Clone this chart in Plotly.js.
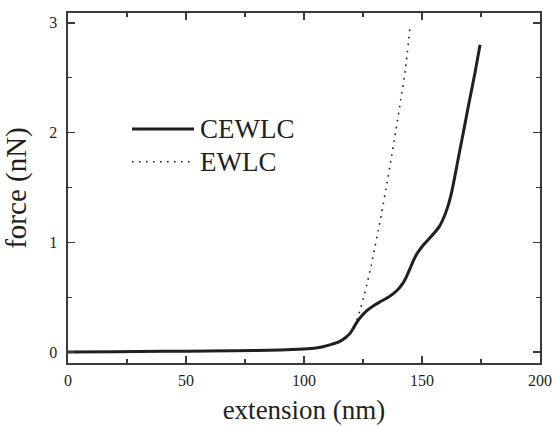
<!DOCTYPE html>
<html>
<head>
<meta charset="utf-8">
<script src="https://cdn.plot.ly/plotly-3.0.1.min.js"></script>
<style>
  html, body { margin: 0; padding: 0; background: #fff; }
  #chart { width: 554px; height: 426px; }
</style>
</head>
<body>
<div id="chart"></div>
<script>
// Force-extension curves: CEWLC model (solid) and EWLC model (dotted)
const cewlcExt   = [0, 20, 40, 60, 80, 90, 100, 105, 108, 112, 115, 117.5, 119.5, 121, 122.5, 124.5, 126.5, 129, 132, 135, 138, 140, 142, 143.5, 145, 146.5, 148, 150, 152.5, 155, 157.5, 159.5, 161, 162.5, 164, 165.5, 167.5, 170, 172.5, 174.6];
const cewlcForce = [0, 0.003, 0.006, 0.009, 0.014, 0.019, 0.028, 0.036, 0.048, 0.072, 0.094, 0.13, 0.17, 0.22, 0.275, 0.33, 0.375, 0.415, 0.455, 0.49, 0.535, 0.575, 0.63, 0.69, 0.765, 0.84, 0.9, 0.96, 1.02, 1.08, 1.15, 1.24, 1.33, 1.45, 1.61, 1.78, 2.0, 2.28, 2.55, 2.8];

const ewlcExt   = [0, 20, 40, 60, 80, 90, 100, 105, 108, 112, 115, 117.5, 119.5, 121, 122.5, 124, 125.5, 127, 128.5, 130, 131.5, 133, 135, 137, 139, 141, 143, 144.8];
const ewlcForce = [0, 0.003, 0.006, 0.009, 0.014, 0.019, 0.028, 0.036, 0.048, 0.072, 0.094, 0.13, 0.17, 0.22, 0.3, 0.4, 0.52, 0.65, 0.79, 0.95, 1.11, 1.28, 1.52, 1.77, 2.03, 2.3, 2.58, 2.94];

const legendNames = ['CEWLC', 'EWLC'];
const xTitle = 'extension (nm)';
const yTitle = 'force (nN)';

const serif = 'Liberation Serif';
const ink = '#231f20';
const axisColor = '#3a3a3a';

const traces = [
  {
    x: ewlcExt, y: ewlcForce, type: 'scatter', mode: 'lines',
    line: { color: ink, width: 1.6, dash: '1.6px,5.4px', shape: 'spline', smoothing: 0.6 },
    hoverinfo: 'skip', showlegend: false
  },
  {
    x: cewlcExt, y: cewlcForce, type: 'scatter', mode: 'lines',
    line: { color: ink, width: 3, shape: 'spline', smoothing: 0.5 },
    hoverinfo: 'skip', showlegend: false
  }
];

const axisCommon = {
  showgrid: false, zeroline: false, showline: true, mirror: 'ticks',
  linecolor: axisColor, linewidth: 1.6,
  ticks: 'inside', ticklen: 7, tickwidth: 1.3, tickcolor: axisColor,
  tickfont: { family: serif, size: 16, color: ink },
  fixedrange: true
};

const layout = {
  width: 554, height: 426,
  margin: { l: 68, r: 14, t: 13, b: 63 },
  paper_bgcolor: '#fff', plot_bgcolor: '#fff',
  showlegend: false,
  font: { family: serif, color: ink },
  xaxis: Object.assign({}, axisCommon, {
    range: [0, 200], tickvals: [0, 50, 100, 150, 200],
    minor: { tickvals: [25, 75, 125, 175], ticks: 'inside', ticklen: 4, tickcolor: axisColor, tickwidth: 1.3 },
    ticklabelstandoff: 2,
    title: { text: xTitle, font: { family: serif, size: 27, color: ink }, standoff: 12 }
  }),
  yaxis: Object.assign({}, axisCommon, {
    range: [-0.1, 3.09], tickvals: [0, 1, 2, 3],
    minor: { tickvals: [0.5, 1.5, 2.5], ticks: 'inside', ticklen: 4, tickcolor: axisColor, tickwidth: 1.3 },
    ticklabelstandoff: 6,
    title: { text: yTitle, font: { family: serif, size: 29, color: ink }, standoff: 14 }
  }),
  shapes: [
    { type: 'line', xref: 'paper', yref: 'paper', x0: 0.1356, x1: 0.267, y0: 0.6686, y1: 0.6686,
      line: { color: ink, width: 3 } },
    { type: 'line', xref: 'paper', yref: 'paper', x0: 0.1356, x1: 0.26, y0: 0.575, y1: 0.575,
      line: { color: ink, width: 1.6, dash: '1.6px,5.4px' } }
  ],
  annotations: [
    { xref: 'paper', yref: 'paper', x: 0.276, y: 0.6686, xanchor: 'left', yanchor: 'middle',
      text: legendNames[0], showarrow: false, font: { family: serif, size: 27, color: ink } },
    { xref: 'paper', yref: 'paper', x: 0.276, y: 0.575, xanchor: 'left', yanchor: 'middle',
      text: legendNames[1], showarrow: false, font: { family: serif, size: 27, color: ink } }
  ]
};

Plotly.newPlot('chart', traces, layout, { displayModeBar: false, staticPlot: true });
</script>
</body>
</html>
